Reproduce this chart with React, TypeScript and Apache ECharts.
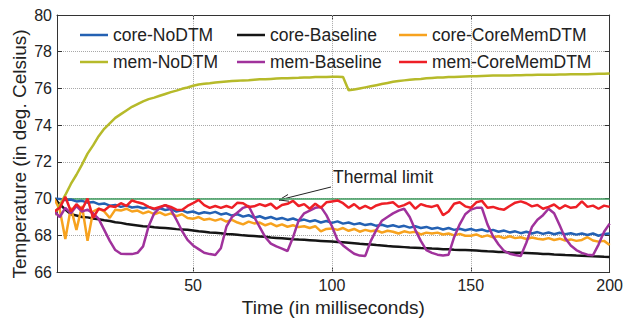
import { useEffect, useRef } from "react";
import * as echarts from "echarts";

// time in milliseconds (sampled every 2 ms)
const time = [
  0, 2, 4, 6, 8, 10, 12, 14, 16, 18,
  20, 22, 24, 26, 28, 30, 32, 34, 36, 38,
  40, 42, 44, 46, 48, 50, 52, 54, 56, 58,
  60, 62, 64, 66, 68, 70, 72, 74, 76, 78,
  80, 82, 84, 86, 88, 90, 92, 94, 96, 98,
  100, 102, 104, 106, 108, 110, 112, 114, 116, 118,
  120, 122, 124, 126, 128, 130, 132, 134, 136, 138,
  140, 142, 144, 146, 148, 150, 152, 154, 156, 158,
  160, 162, 164, 166, 168, 170, 172, 174, 176, 178,
  180, 182, 184, 186, 188, 190, 192, 194, 196, 198,
  200,
];

const coreNoDTM = [
  70.0, 69.98, 69.92, 69.95, 69.85, 69.88, 69.78, 69.82, 69.7, 69.74,
  69.62, 69.66, 69.55, 69.62, 69.52, 69.56, 69.48, 69.54, 69.42, 69.48,
  69.38, 69.44, 69.3, 69.36, 69.24, 69.3, 69.18, 69.26, 69.2, 69.28,
  69.14, 69.2, 69.08, 69.15, 69.02, 69.1, 68.96, 69.04, 68.92, 69.0,
  68.88, 68.95, 68.84, 68.92, 68.8, 68.86, 68.76, 68.82, 68.7, 68.78,
  68.68, 68.76, 68.64, 68.7, 68.6, 68.66, 68.56, 68.62, 68.52, 68.58,
  68.48, 68.55, 68.46, 68.52, 68.42, 68.5, 68.4, 68.46, 68.36, 68.42,
  68.32, 68.4, 68.3, 68.36, 68.28, 68.35, 68.26, 68.32, 68.22, 68.3,
  68.2, 68.26, 68.16, 68.22, 68.12, 68.2, 68.1, 68.18, 68.08, 68.16,
  68.06, 68.14, 68.06, 68.12, 68.04, 68.1, 68.02, 68.1, 67.98, 68.08,
  68.1,
];

const coreBaseline = [
  70.0, 69.7, 69.4, 69.15, 69.08, 69.0, 68.98, 68.92, 68.88, 68.82,
  68.78, 68.72, 68.68, 68.62, 68.58, 68.54, 68.5, 68.48, 68.44, 68.42,
  68.4, 68.38, 68.34, 68.32, 68.3, 68.26, 68.22, 68.2, 68.16, 68.14,
  68.12, 68.08, 68.06, 68.04, 68.0, 67.98, 67.96, 67.94, 67.92, 67.88,
  67.86, 67.84, 67.82, 67.79, 67.77, 67.76, 67.74, 67.72, 67.7, 67.68,
  67.66, 67.64, 67.62, 67.6, 67.57, 67.54, 67.52, 67.5, 67.47, 67.45,
  67.42, 67.4, 67.38, 67.36, 67.34, 67.33, 67.31, 67.3, 67.28, 67.27,
  67.25, 67.24, 67.22, 67.21, 67.2, 67.19, 67.17, 67.15, 67.13, 67.12,
  67.1, 67.09, 67.07, 67.06, 67.05, 67.04, 67.03, 67.01, 66.99, 66.98,
  66.96, 66.95, 66.93, 66.92, 66.9, 66.89, 66.88, 66.86, 66.85, 66.83,
  66.82,
];

const coreCoreMemDTM = [
  70.0, 69.4, 67.8, 69.5, 68.3, 69.6, 67.7, 69.3, 69.45, 69.3,
  68.95, 69.4, 69.35, 69.45, 69.3, 69.35, 69.2, 69.3, 69.15, 69.25,
  69.1, 69.2, 69.05, 69.15, 68.95, 68.9, 69.0, 68.85, 68.9, 68.8,
  68.9, 68.75, 68.85, 68.7, 68.6, 68.75, 68.65, 68.7, 68.55, 68.65,
  68.5, 68.6, 68.47, 68.55, 68.45, 68.5, 68.4, 68.5, 68.22, 68.35,
  68.38, 68.3, 68.4, 68.25, 68.35, 68.2, 68.3, 68.22, 68.28, 68.15,
  68.25, 68.2, 68.1, 68.22, 68.15, 68.2, 68.05, 68.15, 68.1, 68.15,
  68.05, 68.1, 68.0, 68.08, 67.98, 67.98, 68.05, 67.92, 68.0, 67.9,
  67.95, 67.85, 67.95, 67.85, 67.9, 67.8, 67.88, 67.82, 67.78, 67.85,
  67.75, 67.82, 67.72, 67.78, 67.7, 67.75, 67.9, 67.72, 67.66, 67.7,
  67.48,
];

const memNoDTM = [
  69.1, 69.65, 70.2, 70.8, 71.3, 71.85, 72.45, 72.9, 73.4, 73.8,
  74.1, 74.4, 74.6, 74.8, 75.0, 75.15, 75.3, 75.42, 75.5, 75.6,
  75.7, 75.8, 75.88, 75.98, 76.05, 76.15, 76.22, 76.25, 76.28, 76.32,
  76.35, 76.38, 76.4, 76.42, 76.44, 76.45, 76.48, 76.5, 76.5, 76.52,
  76.54, 76.55, 76.56, 76.57, 76.58, 76.6, 76.6, 76.62, 76.62, 76.63,
  76.64, 76.64, 76.62, 75.9, 75.94, 76.0, 76.06, 76.12, 76.18, 76.24,
  76.3, 76.36, 76.4, 76.44, 76.47, 76.5, 76.52, 76.55, 76.57, 76.59,
  76.6, 76.62, 76.63, 76.64, 76.65, 76.66, 76.67, 76.68, 76.69, 76.7,
  76.7, 76.71, 76.71, 76.72, 76.72, 76.73, 76.73, 76.74, 76.74, 76.75,
  76.75, 76.76, 76.76, 76.77, 76.77, 76.78, 76.78, 76.79, 76.8, 76.8,
  76.82,
];

const memBaseline = [
  69.3, 69.0, 69.5, 69.2, 69.6, 69.3, 69.4, 69.2, 68.9, 68.3,
  67.7, 67.2, 67.0, 66.98, 66.98, 67.05, 67.4, 68.5, 69.2, 69.5,
  69.65, 69.4, 68.85, 68.25, 67.75, 67.45, 67.25, 67.05, 66.98, 66.93,
  67.3, 68.47, 69.0, 69.25, 69.5, 69.6, 69.0, 68.45, 67.9, 67.55,
  67.4, 67.28, 67.15, 67.9, 68.8, 69.2, 69.35, 69.5, 69.55, 69.1,
  68.5, 67.75, 67.45, 67.22, 67.0, 66.9, 66.88, 67.7, 68.3, 68.8,
  69.0, 69.2, 69.35, 69.45, 69.0, 68.3, 67.7, 67.2, 67.05, 66.95,
  66.9, 66.95, 67.9, 68.6, 69.15, 69.4, 69.5, 69.5, 68.6, 67.95,
  67.5, 67.15, 67.0, 66.93, 66.88, 67.6, 68.45, 68.85, 69.1, 69.45,
  69.2, 68.55, 67.85, 67.45, 67.2, 67.05, 66.95, 66.92, 67.5, 68.2,
  68.64,
];

const memCoreMemDTM = [
  69.3, 69.5, 70.1, 69.3, 69.7, 69.4, 70.0, 68.95, 69.45, 69.36,
  69.6, 69.55, 69.75, 69.6, 69.9, 69.8, 69.72, 69.55, 69.45, 69.55,
  69.65, 69.55, 69.4, 69.38, 69.6, 69.75, 69.93, 69.65, 69.5, 69.6,
  69.5, 69.6, 69.5, 69.78, 69.75, 69.55, 69.58, 69.7, 69.6, 69.72,
  69.45, 69.65, 69.72, 69.88, 69.6, 69.7, 69.45, 69.72, 69.5, 69.8,
  69.85, 69.9, 69.75, 69.5, 69.7, 69.45, 69.6, 69.45, 69.63, 69.72,
  69.75, 69.8, 69.55, 69.65, 69.8, 69.45, 69.7, 69.6, 69.55, 69.65,
  69.1, 69.3, 69.72, 69.8, 69.58, 69.5, 69.8, 69.88, 69.5, 69.55,
  69.45, 69.4, 69.6, 69.78, 69.85, 69.75, 69.58, 69.65, 69.45, 69.55,
  69.68, 69.45, 69.63, 69.5, 69.55, 69.85, 69.55, 69.62, 69.45, 69.62,
  69.55,
];

const thermalLimit = 70;
const xTickValues = [50, 100, 150, 200];
const seriesNames = [
  "core-NoDTM",
  "core-Baseline",
  "core-CoreMemDTM",
  "mem-NoDTM",
  "mem-Baseline",
  "mem-CoreMemDTM",
];
const seriesColors = ["#2461b3", "#151515", "#f7a21e", "#b6ba2a", "#a0329c", "#ee1f26"];
const seriesValues = [coreNoDTM, coreBaseline, coreCoreMemDTM, memNoDTM, memBaseline, memCoreMemDTM];

const FONT = "'Liberation Sans', Arial, Helvetica, sans-serif";

export default function App() {
  const ref = useRef<HTMLDivElement>(null);

  useEffect(() => {
    document.body.style.margin = "0";
    const chart = echarts.init(ref.current as HTMLDivElement, null, { renderer: "svg" });

    const series: any[] = seriesNames.map((name, k) => ({
      name,
      type: "line",
      data: time.map((t, i) => [t, seriesValues[k][i]]),
      symbol: "none",
      showSymbol: false,
      clip: true,
      lineStyle: { color: seriesColors[k], width: 2.5 },
      itemStyle: { color: seriesColors[k] },
      z: 3 + k,
    }));

    series[0].markLine = {
      silent: true,
      symbol: "none",
      z: 1,
      label: { show: false },
      lineStyle: { type: "dotted", color: "#a8a8a8", width: 1 },
      data: xTickValues.filter((v) => v < 200).map((v) => ({ xAxis: v })),
    };
    series[1].markLine = {
      silent: true,
      symbol: "none",
      z: 2,
      label: { show: false },
      lineStyle: { type: "solid", color: "#3d9a5c", width: 1.5 },
      data: [{ yAxis: thermalLimit }],
    };

    const legendText = { fontSize: 17.5, fontFamily: FONT, color: "#222", lineHeight: 20 };
    const legendCommon = {
      orient: "vertical",
      top: 25,
      padding: 0,
      icon: "rect",
      itemWidth: 28,
      itemHeight: 2.5,
      itemGap: 7,
      textStyle: legendText,
    };

    const axisLineStyle = { color: "#333", width: 1 };

    chart.setOption({
      animation: false,
      grid: { left: 57, right: 14, top: 15, bottom: 45, containLabel: false },
      legend: [
        { ...legendCommon, left: 80, data: [seriesNames[0], seriesNames[3]] },
        { ...legendCommon, left: 237, data: [seriesNames[1], seriesNames[4]] },
        { ...legendCommon, left: 399, data: [seriesNames[2], seriesNames[5]] },
      ],
      xAxis: [
        {
          type: "value",
          min: 1,
          max: 200,
          position: "bottom",
          axisLine: { show: true, onZero: false, lineStyle: axisLineStyle },
          axisTick: { show: true, inside: true, length: 5, customValues: xTickValues, lineStyle: axisLineStyle },
          axisLabel: { customValues: xTickValues, fontSize: 16, color: "#222", margin: 5, fontFamily: FONT },
          splitLine: { show: false },
          name: "Time (in milliseconds)",
          nameLocation: "middle",
          nameGap: 20,
          nameTextStyle: { fontSize: 19, color: "#222", fontFamily: FONT },
        },
        {
          type: "value",
          min: 1,
          max: 200,
          position: "top",
          axisLine: { show: true, onZero: false, lineStyle: axisLineStyle },
          axisTick: { show: true, inside: true, length: 5, customValues: xTickValues, lineStyle: axisLineStyle },
          axisLabel: { show: false },
          splitLine: { show: false },
        },
      ],
      yAxis: [
        {
          type: "value",
          min: 66,
          max: 80,
          interval: 2,
          position: "left",
          axisLine: { show: true, onZero: false, lineStyle: axisLineStyle },
          axisTick: { show: true, inside: true, length: 5, lineStyle: axisLineStyle },
          axisLabel: { fontSize: 16, color: "#222", margin: 5, fontFamily: FONT },
          splitLine: { show: true, lineStyle: { type: "dotted", color: "#a8a8a8", width: 1 } },
        },
        {
          type: "value",
          min: 66,
          max: 80,
          interval: 2,
          position: "right",
          axisLine: { show: true, onZero: false, lineStyle: axisLineStyle },
          axisTick: { show: true, inside: true, length: 5, lineStyle: axisLineStyle },
          axisLabel: { show: false },
          splitLine: { show: false },
        },
      ],
      graphic: [
        {
          type: "text",
          x: 19,
          y: 154,
          rotation: Math.PI / 2,
          style: {
            text: "Temperature (in deg. Celsius)",
            fontSize: 19,
            fontFamily: FONT,
            fill: "#222",
            align: "center",
            verticalAlign: "middle",
          },
        },
        {
          type: "text",
          x: 333,
          y: 177,
          style: {
            text: "Thermal limit",
            fontSize: 17.5,
            fontFamily: FONT,
            fill: "#222",
            align: "left",
            verticalAlign: "middle",
          },
        },
        {
          type: "line",
          shape: { x1: 331, y1: 187, x2: 279, y2: 200 },
          style: { stroke: "#222", lineWidth: 1 },
        },
        {
          type: "polyline",
          shape: { points: [[288, 194.5], [279, 200], [289, 201.2]] },
          style: { stroke: "#222", lineWidth: 1, fill: null },
        },
      ],
      series,
    });

    return () => chart.dispose();
  }, []);

  return <div ref={ref} style={{ width: 626, height: 322 }} />;
}
